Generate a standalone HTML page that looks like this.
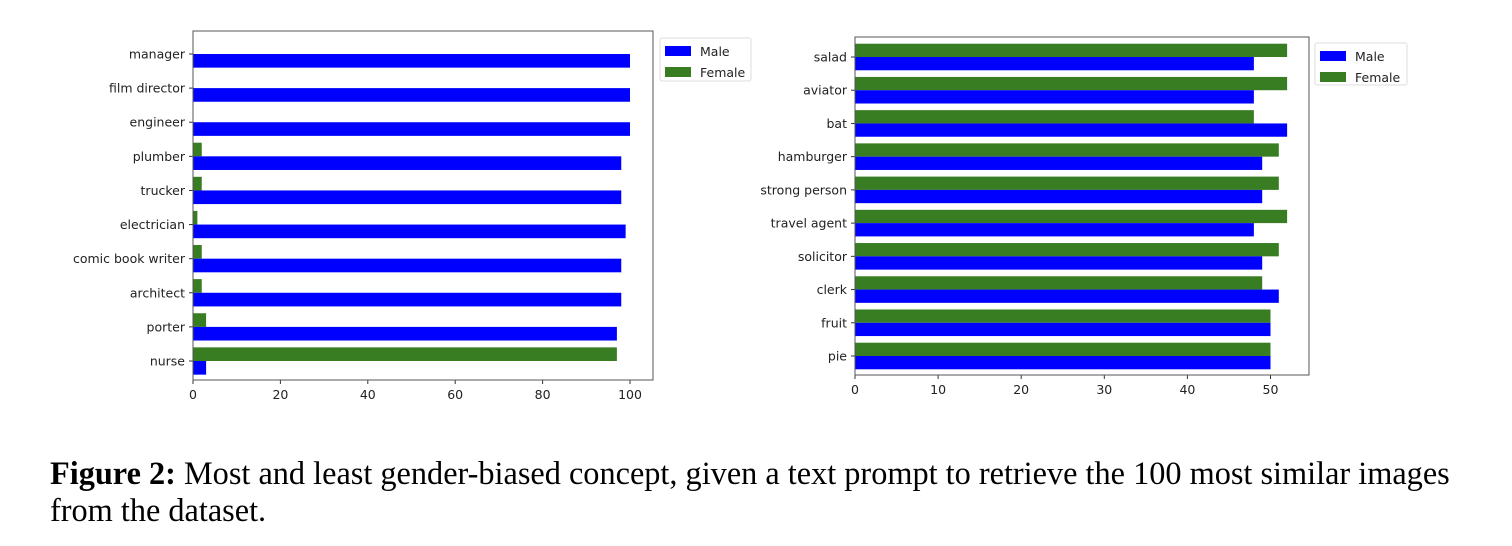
<!DOCTYPE html>
<html><head><meta charset="utf-8">
<style>
body{margin:0;background:#fff;width:1512px;height:546px;overflow:hidden;position:relative}
svg{position:absolute;left:0;top:0}
.cap{position:absolute;left:50px;top:455px;width:1412px;font-family:"Liberation Serif",serif;font-size:32.3px;line-height:37px;color:#000}
text{font-family:"DejaVu Sans","Liberation Sans",sans-serif;font-size:12.5px;fill:#222}
</style></head><body>
<svg id="chart" width="1512" height="546"></svg>
<div class="cap"><b>Figure 2:</b> Most and least gender-biased concept, given a text prompt to retrieve the 100 most similar images from the dataset.</div>
<script>
const leftCats=["manager","film director","engineer","plumber","trucker","electrician","comic book writer","architect","porter","nurse"];
const leftMale=[100,100,100,98,98,99,98,98,97,3];
const leftFemale=[0,0,0,2,2,1,2,2,3,97];
const leftTicks=[0,20,40,60,80,100];
const rightCats=["salad","aviator","bat","hamburger","strong person","travel agent","solicitor","clerk","fruit","pie"];
const rightMale=[48,48,52,49,49,48,49,51,50,50];
const rightFemale=[52,52,48,51,51,52,51,49,50,50];
const rightTicks=[0,10,20,30,40,50];
const NS="http://www.w3.org/2000/svg";
const svg=document.getElementById('chart');
function mk(tag,attrs,parent){const e=document.createElementNS(NS,tag);for(const k in attrs)e.setAttribute(k,attrs[k]);(parent||svg).appendChild(e);return e;}
const BLUE="#0000ff",GREEN="#387d22";
function drawChart(cfg){
  const g=mk('g',{});
  
  
  const xs=v=>cfg.x0+(v/cfg.unit)*cfg.pxPerUnit;
  const n=cfg.cats.length;
  const step=(cfg.yLast-cfg.yFirst)/(n-1);
  const ys=i=>cfg.yFirst+i*step;
  const bh=step*0.4;
  cfg.cats.forEach((c,i)=>{
    const y=ys(i);
    const f=mk('rect',{x:cfg.x0,y:y-bh,width:Math.max(0,xs(cfg.female[i])-cfg.x0),height:bh,fill:GREEN},g);
    
    
    const m=mk('rect',{x:cfg.x0,y:y,width:Math.max(0,xs(cfg.male[i])-cfg.x0),height:bh,fill:BLUE},g);
    
    
    mk('line',{x1:cfg.x0-4,x2:cfg.x0,y1:y,y2:y,stroke:'#333'},g);
    const t=mk('text',{x:cfg.x0-8,y:y+4.5,'text-anchor':'end'},g);
    t.textContent=c;
    
    
  });
  cfg.ticks.forEach(v=>{
    const x=xs(v);
    mk('line',{x1:x,x2:x,y1:cfg.bottom,y2:cfg.bottom+4,stroke:'#333'},g);
    const t=mk('text',{x:x,y:cfg.bottom+19,'text-anchor':'middle'},g);
    t.textContent=v;
    
    
  });
  const fr=mk('rect',{x:cfg.x0,y:cfg.top,width:cfg.right-cfg.x0,height:cfg.bottom-cfg.top,fill:'none',stroke:'#555','stroke-width':1},g);
  
  
  const L=cfg.legend;
  const lg=mk('g',{},g);
  
  
  mk('rect',{x:L.x,y:L.y,width:L.w,height:L.h,fill:'#fff',stroke:'#ddd',rx:2},lg);
  [["Male",BLUE],["Female",GREEN]].forEach((e,k)=>{
    const yy=L.y+8+k*21;
    mk('rect',{x:L.x+5,y:yy,width:26,height:10,fill:e[1]},lg);
    const t=mk('text',{x:L.x+40,y:yy+10},lg);
    t.textContent=e[0];
    
    
  });
}
drawChart({name:'left-chart',cats:leftCats,male:leftMale,female:leftFemale,ticks:leftTicks,x0:193,unit:1,pxPerUnit:4.37,yFirst:54,yLast:361,top:31,bottom:380,right:653,legend:{x:660,y:38,w:91,h:43}});
drawChart({name:'right-chart',cats:rightCats,male:rightMale,female:rightFemale,ticks:rightTicks,x0:855,unit:1,pxPerUnit:8.31,yFirst:57,yLast:356,top:37,bottom:375,right:1309,legend:{x:1315,y:43,w:92,h:42}});
</script>
</body></html>
